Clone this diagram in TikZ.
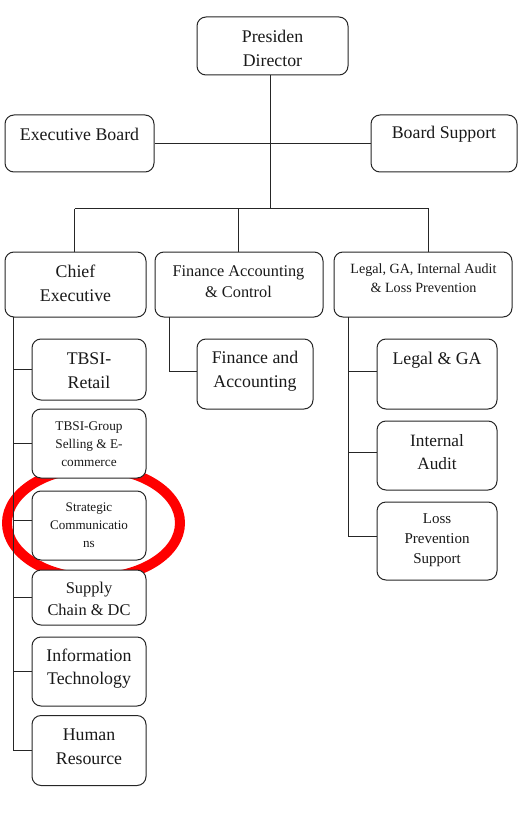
\documentclass[tikz,border=0pt]{standalone}
\usepackage{fontspec}
\setmainfont{Liberation Serif}
\newcommand{\fsz}[2]{\fontsize{#1}{#2}\selectfont}
\begin{document}
\begin{tikzpicture}[x=1pt,y=-1pt,
  box/.style={draw=black!85, rounded corners=9pt, fill=white, line width=1pt, inner sep=0pt},
  txt/.style={inner sep=0pt, align=center, text=black!90},
  link/.style={draw=black!85, line width=1pt}]
\useasboundingbox (0,0) rectangle (519,813);
% red highlight ellipse (behind the boxes)
\draw[red, line width=10pt] (93.5,523) ellipse [x radius=86.5, y radius=55];
% coordinates for connectors
\coordinate (bus) at (270.5,208.5);
\coordinate (busL) at (74.5,208.5);
\coordinate (busM) at (238.5,208.5);
\coordinate (busR) at (428.5,208.5);
\coordinate (ceL) at (13.5,317);
\coordinate (facL) at (169.5,317);
\coordinate (lgL) at (348.5,317);
% boxes
\node[box, minimum width=151pt, minimum height=58pt] (pd) at (272.5,46) {};
\node[box, minimum width=149pt, minimum height=57pt] (eb) at (79.5,143.5) {};
\node[box, minimum width=146pt, minimum height=57pt] (bs) at (444,143.5) {};
\node[box, minimum width=141pt, minimum height=65pt] (ce) at (75.5,284.5) {};
\node[box, minimum width=168pt, minimum height=65pt] (fac) at (239,284.5) {};
\node[box, minimum width=178pt, minimum height=65pt] (lg) at (423,284.5) {};
\node[box, minimum width=114pt, minimum height=61pt] (tr) at (89,369.5) {};
\node[box, minimum width=114pt, minimum height=69pt] (tg) at (89,443.5) {};
\node[box, minimum width=114pt, minimum height=69pt] (sc) at (89,525.5) {};
\node[box, minimum width=114pt, minimum height=55pt] (sp) at (89,597.5) {};
\node[box, minimum width=114pt, minimum height=69pt] (it) at (89,671.5) {};
\node[box, minimum width=114pt, minimum height=70pt] (hr) at (89,750.5) {};
\node[box, minimum width=116pt, minimum height=70pt] (fa) at (255,374) {};
\node[box, minimum width=120pt, minimum height=70pt] (lga) at (437,374) {};
\node[box, minimum width=120pt, minimum height=69pt] (ia) at (437,455.5) {};
\node[box, minimum width=120pt, minimum height=78pt] (lp) at (437,541) {};
% connectors
\draw[link] (pd.south -| bus) -- (bus);
\draw[link] (eb.east) -- (bs.west);
\draw[link] (busL) -- (busR);
\draw[link] (busL) -- (ce.north -| busL);
\draw[link] (busM) -- (fac.north -| busM);
\draw[link] (busR) -- (lg.north -| busR);
\draw[link] (ceL) |- (hr.west);
\draw[link] (tr.west -| ceL) -- (tr.west);
\draw[link] (tg.west -| ceL) -- (tg.west);
\draw[link] ([yshift=5pt]sc.west -| ceL) -- ([yshift=5pt]sc.west);
\draw[link] (sp.west -| ceL) -- (sp.west);
\draw[link] (it.west -| ceL) -- (it.west);
\draw[link] (facL) |- ([yshift=3pt]fa.west);
\draw[link] (lgL) |- ([yshift=5pt]lp.west);
\draw[link] ([yshift=3pt]lga.west -| lgL) -- ([yshift=3pt]lga.west);
\draw[link] ([yshift=3.5pt]ia.west -| lgL) -- ([yshift=3.5pt]ia.west);
% texts
\node[txt, font=\fsz{17.8}{24}] (pdt) at (272.5,48) {Presiden\\Director};
\node[txt, font=\fsz{17.8}{24}] (ebt) at (79.5,134) {Executive Board};
\node[txt, font=\fsz{17.8}{24}] (bst) at (444,134) {Board Support};
\node[txt, font=\fsz{17.8}{24}] (cet) at (75.5,283) {Chief\\Executive};
\node[txt, font=\fsz{16.3}{21}] (fact) at (238.5,281.5) {Finance Accounting\\\& Control};
\node[txt, font=\fsz{14.1}{19}] (lgt) at (423.5,278.5) {Legal, GA, Internal Audit\\\& Loss Prevention};
\node[txt, font=\fsz{17.8}{24}] (trt) at (89,371) {TBSI-\\Retail};
\node[txt, font=\fsz{13.3}{18}] (tgt) at (89,444) {TBSI-Group\\Selling \& E-\\commerce};
\node[txt, font=\fsz{13.1}{18}] (sct) at (89,525) {Strategic\\Communicatio\\ns};
\node[txt, font=\fsz{16.4}{22}] (spt) at (89,599) {Supply\\Chain \& DC};
\node[txt, font=\fsz{17.8}{23}] (itt) at (89,668.5) {Information\\Technology};
\node[txt, font=\fsz{17.8}{24}] (hrt) at (89,747) {Human\\Resource};
\node[txt, font=\fsz{17.8}{24}] (fat) at (255,371) {Finance and\\Accounting};
\node[txt, font=\fsz{17.8}{24}] (lgat) at (437,360) {Legal \& GA};
\node[txt, font=\fsz{17.3}{23}] (iat) at (437,452.5) {Internal\\Audit};
\node[txt, font=\fsz{15}{20}] (lpt) at (437,540) {Loss\\Prevention\\Support};
\end{tikzpicture}
\end{document}
